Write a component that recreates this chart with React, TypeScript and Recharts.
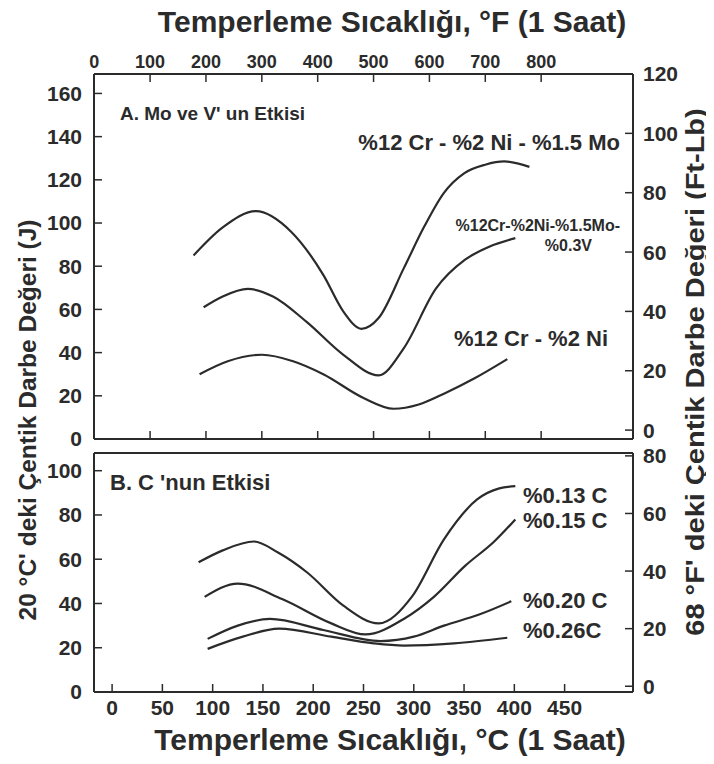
import React from 'react'
import { LineChart, Line, XAxis, YAxis } from 'recharts'

// x values are in °C, the upper scale shows the same range in °F
const tempDomainC = [-18, 518]
const tempDomainF = [tempDomainC[0] * 1.8 + 32, tempDomainC[1] * 1.8 + 32]
const ticksF = [0, 100, 200, 300, 400, 500, 600, 700, 800]
const ticksC = [0, 50, 100, 150, 200, 250, 300, 350, 400, 450]

const ticksJTop = [0, 20, 40, 60, 80, 100, 120, 140, 160]
const ticksFtLbTop = [0, 20, 40, 60, 80, 100, 120]
const ticksJBottom = [0, 20, 40, 60, 80, 100]
const ticksFtLbBottom = [0, 20, 40, 60, 80]

// A. Mo ve V' un Etkisi
const moTemps = [81, 110, 143, 178, 210, 230, 248, 265, 290, 310, 330, 350, 371, 390, 415]
const moJ = [85, 98, 105.5, 96, 76, 59, 51, 56, 79, 98, 114, 123, 127, 128.5, 126]

const vTemps = [91, 110, 135, 160, 194, 230, 265, 290, 322, 351, 375, 401]
const vJ = [61, 66, 69.5, 66, 54, 39, 29.5, 42, 69.6, 83, 89, 93]

const niTemps = [87, 115, 149, 180, 210, 250, 280, 305, 330, 360, 393]
const niJ = [30, 36, 39, 36, 30, 19, 14, 16, 21, 28, 37]

// B. C 'nun Etkisi
const c13Temps = [86, 110, 141, 165, 194, 230, 265, 298, 330, 363, 385, 401]
const c13J = [58.6, 64, 68, 63, 54, 39, 31, 43, 69, 87, 92, 93]

const c15Temps = [92, 125, 169, 218, 252, 290, 320, 351, 380, 401]
const c15J = [43, 49, 42, 31, 26, 33, 43, 57, 68, 78]

const c20Temps = [95, 125, 157, 210, 267, 300, 330, 365, 397]
const c20J = [24, 30, 33, 28, 23, 25, 30, 35, 41]

const c26Temps = [95, 130, 166, 218, 260, 290, 340, 393]
const c26J = [19.5, 25, 28.6, 25, 22, 21, 22, 24.5]

const toPoints = (temps: number[], vals: number[]) =>
  temps.map((t, i) => ({ t, v: vals[i] }))

const cToF = (d: { t: number }) => d.t * 1.8 + 32

const ink = '#2b2b2b'
const font = '"Liberation Sans", Arial, sans-serif'
const tickStyle = { fill: ink, fontSize: 21, fontWeight: 700 }
const axisLine = { stroke: ink, strokeWidth: 2 }
const tickLine = { stroke: ink, strokeWidth: 1.5 }

const lineProps = {
  type: 'monotone' as const,
  dataKey: 'v',
  stroke: ink,
  strokeWidth: 2.2,
  dot: false,
  isAnimationActive: false,
  yAxisId: 'j',
}

export default function App() {
  return (
    <div
      style={{
        position: 'relative',
        width: 714,
        height: 764,
        margin: -8,
        background: '#fff',
        fontFamily: font,
      }}
    >
      <div style={{ position: 'absolute', left: 0, top: 0 }}>
        <LineChart width={714} height={450} margin={{ top: 0, right: 0, bottom: 0, left: 0 }}>
          <XAxis
            xAxisId="fTop"
            orientation="top"
            type="number"
            dataKey={cToF}
            domain={tempDomainF}
            allowDataOverflow
            ticks={ticksF}
            height={74}
            tickSize={-8}
            tickMargin={14}
            axisLine={axisLine}
            tickLine={tickLine}
            tick={{ fill: ink, fontSize: 18, fontWeight: 700 }}
            interval={0}
          />
          <XAxis
            xAxisId="fBottom"
            orientation="bottom"
            type="number"
            dataKey={cToF}
            domain={tempDomainF}
            allowDataOverflow
            ticks={ticksF}
            height={11}
            tickSize={-8}
            tickFormatter={() => ''}
            axisLine={axisLine}
            tickLine={tickLine}
            interval={0}
          />
          <YAxis
            yAxisId="j"
            domain={[0, 169]}
            allowDataOverflow
            ticks={ticksJTop}
            width={94}
            tickSize={-8}
            tickMargin={20}
            axisLine={axisLine}
            tickLine={tickLine}
            tick={tickStyle}
            interval={0}
          />
          <YAxis
            yAxisId="ft"
            orientation="right"
            domain={[-3, 120]}
            allowDataOverflow
            ticks={ticksFtLbTop}
            width={81}
            tickSize={-8}
            tickMargin={18}
            axisLine={axisLine}
            tickLine={tickLine}
            tick={tickStyle}
            interval={0}
          />
          <Line {...lineProps} xAxisId="fTop" data={toPoints(moTemps, moJ)} />
          <Line {...lineProps} xAxisId="fBottom" data={toPoints(vTemps, vJ)} />
          <Line {...lineProps} xAxisId="fTop" data={toPoints(niTemps, niJ)} />
        </LineChart>
      </div>

      <div style={{ position: 'absolute', left: 0, top: 440 }}>
        <LineChart width={714} height={324} margin={{ top: 10, right: 0, bottom: 0, left: 0 }}>
          <XAxis
            xAxisId="c"
            type="number"
            dataKey="t"
            domain={tempDomainC}
            allowDataOverflow
            ticks={ticksC}
            height={72}
            tickSize={-8}
            tickMargin={16}
            axisLine={axisLine}
            tickLine={tickLine}
            tick={tickStyle}
            interval={0}
          />
          <XAxis
            xAxisId="border"
            orientation="top"
            type="number"
            dataKey="t"
            domain={tempDomainC}
            allowDataOverflow
            height={3}
            tick={false}
            tickLine={false}
            axisLine={axisLine}
          />
          <YAxis
            yAxisId="j"
            domain={[0, 108]}
            allowDataOverflow
            ticks={ticksJBottom}
            width={94}
            tickSize={-8}
            tickMargin={20}
            axisLine={axisLine}
            tickLine={tickLine}
            tick={tickStyle}
            interval={0}
          />
          <YAxis
            yAxisId="ft"
            orientation="right"
            domain={[-2, 81]}
            allowDataOverflow
            ticks={ticksFtLbBottom}
            width={81}
            tickSize={-8}
            tickMargin={18}
            axisLine={axisLine}
            tickLine={tickLine}
            tick={tickStyle}
            interval={0}
          />
          <Line {...lineProps} xAxisId="c" data={toPoints(c13Temps, c13J)} />
          <Line {...lineProps} xAxisId="c" data={toPoints(c15Temps, c15J)} />
          <Line {...lineProps} xAxisId="c" data={toPoints(c20Temps, c20J)} />
          <Line {...lineProps} xAxisId="c" data={toPoints(c26Temps, c26J)} />
        </LineChart>
      </div>

      <svg
        width={714}
        height={764}
        style={{ position: 'absolute', left: 0, top: 0, pointerEvents: 'none' }}
        fontFamily={font}
        fontWeight={700}
        fill={ink}
      >
        <text x={392} y={32} fontSize={30} textAnchor="middle">
          Temperleme Sıcaklığı, °F (1 Saat)
        </text>
        <text x={390} y={750} fontSize={30} textAnchor="middle">
          Temperleme Sıcaklığı, °C (1 Saat)
        </text>
        <text transform="translate(36, 420) rotate(-90)" fontSize={24.5} textAnchor="middle">
          20 °C' deki Çentik Darbe Değeri (J)
        </text>
        <text transform="translate(704, 372) rotate(-90) scale(1.16, 1)" fontSize={25} textAnchor="middle">
          68 °F' deki Çentik Darbe Değeri (Ft-Lb)
        </text>

        <text x={120} y={120} fontSize={19}>A.  Mo ve V' un Etkisi</text>
        <text x={620} y={150} fontSize={22} textAnchor="end">%12 Cr - %2 Ni - %1.5 Mo</text>
        <text x={620} y={231} fontSize={16} textAnchor="end">%12Cr-%2Ni-%1.5Mo-</text>
        <text x={592} y={251} fontSize={16} textAnchor="end">%0.3V</text>
        <text x={608} y={346} fontSize={22} textAnchor="end">%12 Cr - %2 Ni</text>

        <text x={110} y={490} fontSize={22}>B.  C 'nun Etkisi</text>
        <text x={523} y={503} fontSize={22}>%0.13 C</text>
        <text x={523} y={528} fontSize={22}>%0.15 C</text>
        <text x={523} y={608} fontSize={22}>%0.20 C</text>
        <text x={523} y={638} fontSize={22}>%0.26C</text>
      </svg>
    </div>
  )
}
